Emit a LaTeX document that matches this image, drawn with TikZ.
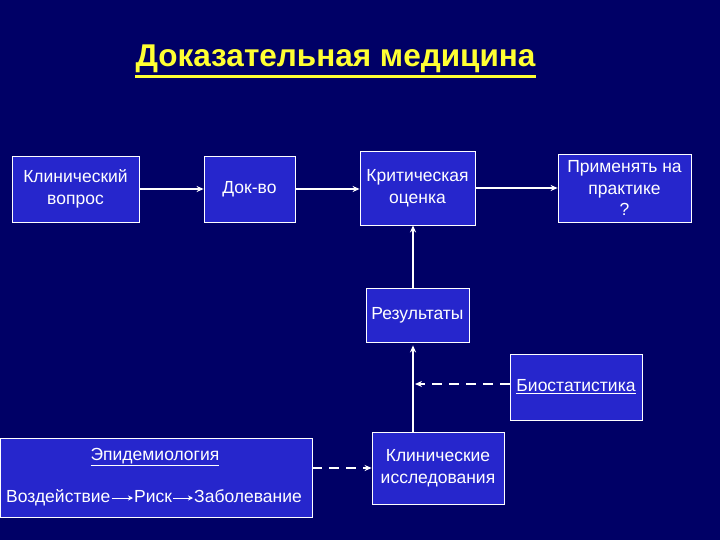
\documentclass[tikz,border=0pt]{standalone}
\usepackage{fontspec}
\setmainfont{Liberation Sans}
\usepackage{xcolor}
\usetikzlibrary{arrows.meta}
\definecolor{slidebg}{RGB}{0,0,102}
\definecolor{boxfill}{RGB}{38,38,204}
\definecolor{titleyellow}{RGB}{255,255,51}
\newcommand{\spineX}{413}
\newcommand{\boxfont}{\fontsize{17.5}{22.5}\selectfont}

\begin{document}
\begin{tikzpicture}[x=1pt, y=-1pt, >={Stealth[length=7pt,width=6pt]},
    box/.style={draw=white, line width=0.8pt, fill=boxfill, text=white, align=center, inner sep=0pt, font=\boxfont},
    word/.style={text=white, inner sep=1pt, text height=12.5pt, text depth=3.5pt, font=\boxfont},
    link/.style={->, draw=white, line width=1.6pt},
    dlink/.style={link, dash pattern=on 10pt off 7pt}]
    % background
    \fill[slidebg] (0,0) rectangle (720,540);
    \useasboundingbox (0,0) rectangle (720,540);
    
    % title
    \node[text=titleyellow, inner sep=0pt, font=\bfseries\fontsize{31.5}{34}\selectfont] (title) at (335.5,59) {Доказательная медицина};
    \draw[titleyellow, line width=2.4pt] ([yshift=-3.5pt]title.south west) -- ([yshift=-3.5pt]title.south east);
    
    % top row
    \node[box, minimum width=127pt, minimum height=66pt] (question) at (75.5,189) {Клинический\\вопрос};
    \node[box, minimum width=91pt, minimum height=66pt] (evidence) at (249.5,189) {Док-во};
    \node[box, minimum width=115pt, minimum height=74pt] (appraisal) at (417.5,188) {Критическая\\оценка};
    \node[box, minimum width=133pt, minimum height=68pt, font=\fontsize{17.5}{21.5}\selectfont] (practice) at (624.5,188) {Применять на\\практике\\?};
    
    % middle
    \node[box, minimum width=103pt, minimum height=54pt] (results) at (417.5,315) {Результаты};
    \node[box, minimum width=132pt, minimum height=66pt] (biostat) at (576,387) {\underline{Биостатистика}};
    
    % bottom row
    \node[box, minimum width=312pt, minimum height=79pt] (epi) at (156,477.5) {};
    \node[box, minimum width=132pt, minimum height=72pt] (trials) at (438,468) {Клинические\\исследования};
    \node[word] (epititle) at (155,456) {\underline{Эпидемиология}};
    \node[word, anchor=west] (exposure) at (5,498) {Воздействие};
    \node[word, anchor=west] (risk) at (133,498) {Риск};
    \node[word, anchor=west] (disease) at (193,498) {Заболевание};
    
    % spine
    \coordinate (spine) at (\spineX,0);
    
    % arrows
    \draw[link] (question.east) -- (evidence.west);
    \draw[link] (evidence.east) -- (evidence.east -| appraisal.west);
    \draw[link] (appraisal.east) -- (appraisal.east -| practice.west);
    \draw[link] (results.north -| spine) -- (appraisal.south -| spine);
    \draw[link] (trials.north -| spine) -- ([yshift=-3pt]results.south -| spine);
    \draw[dlink] (biostat.west |- 0,384) coordinate (bioout) -- ([xshift=2pt]bioout -| spine);
    \draw[dlink] (epi.east |- trials.west) -- (trials.west);
    \draw[-{Stealth[length=5pt,width=5pt]}, white, line width=1pt] (exposure.east) -- (risk.west);
    \draw[-{Stealth[length=5pt,width=5pt]}, white, line width=1pt] (risk.east) -- (disease.west);
\end{tikzpicture}
\end{document}
